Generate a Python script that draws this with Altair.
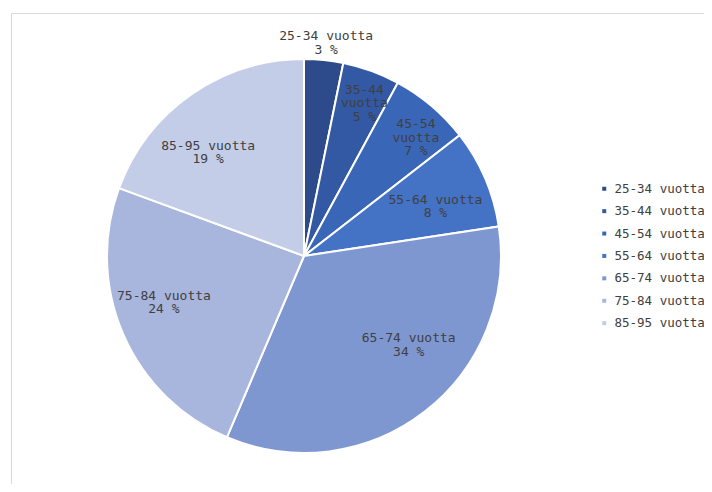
import altair as alt
import pandas as pd

categories = ["25-34 vuotta", "35-44 vuotta", "45-54 vuotta", "55-64 vuotta",
              "65-74 vuotta", "75-84 vuotta", "85-95 vuotta"]
shares = [3.2, 4.7, 6.6, 8.1, 33.8, 24.2, 19.4]
pct_labels = ["3 %", "5 %", "7 %", "8 %", "34 %", "24 %", "19 %"]
colors = ["#2D4A8A", "#3358A4", "#3A66B8", "#4472C4", "#7F97D1", "#A8B5DC", "#C4CDE7"]

# layout: label distance from centre (fraction of pie radius), small angular
# nudge of the label (in share units) and wrapped labels
label_radius = [1.121, 0.897, 0.878, 0.726, 0.676, 0.739, 0.741]
label_nudge = [0, 0, 0, 0, -3.9, 2.1, -1.7]
wrapped = {"35-44 vuotta", "45-54 vuotta"}

def make_label(cat, pct):
    if cat in wrapped:
        a, b = cat.split(" ")
        return f"{a}\n{b}\n{pct}"
    return f"{cat}\n{pct}"

df = pd.DataFrame({
    "cat": categories,
    "share": shares,
    "order": list(range(len(categories))),
    "label": [make_label(c, p) for c, p in zip(categories, pct_labels)],
    "lr": label_radius,
    "nudge": label_nudge,
})

FONT = "DejaVu Sans Mono"
CX, CY, R = 296, 248, 197

arcs = alt.Chart(df).mark_arc(outerRadius=R, stroke="white", strokeWidth=2).encode(
    theta=alt.Theta("share:Q", stack=True),
    order=alt.Order("order:Q"),
    x=alt.value(CX), y=alt.value(CY),
    color=alt.Color(
        "cat:N",
        scale=alt.Scale(domain=categories, range=colors),
        legend=alt.Legend(
            title=None, orient="none", legendX=590, legendY=174.5,
            symbolType="square", symbolSize=16, symbolStrokeWidth=0,
            labelFont=FONT, labelFontSize=12.5, labelColor="#404040",
            labelOffset=4, rowPadding=9.4, padding=0,
        ),
    ),
)

texts = alt.Chart(df).transform_window(
    cum="sum(share)", sort=[alt.SortField("order")], frame=[None, 0]
).transform_calculate(
    mid="datum.cum - datum.share / 2 + datum.nudge"
).mark_text(
    font=FONT, fontSize=13, color="#404040", lineBreak="\n", lineHeight=13.5,
    align="center", baseline="middle",
).encode(
    x=alt.value(CX), y=alt.value(CY),
    theta=alt.Theta("mid:Q", stack=False),
    radius=alt.Radius("lr:Q", stack=False,
                      scale=alt.Scale(type="linear", domain=[0, 1], range=[0, R], zero=True)),
    text="label:N",
)

frame_df = pd.DataFrame({"a": [0]})
left_line = alt.Chart(frame_df).mark_rule(color="#D9D9D9", strokeWidth=1).encode(
    x=alt.value(3.5), y=alt.value(5.5), y2=alt.value(476))
top_line = alt.Chart(frame_df).mark_rule(color="#D9D9D9", strokeWidth=1).encode(
    x=alt.value(3.5), x2=alt.value(696), y=alt.value(5.5))

chart = alt.layer(left_line, top_line, arcs, texts).properties(
    width=696, height=476, autosize=alt.AutoSizeParams(type="none"),
    padding=0,
).configure(background="white", view=alt.ViewConfig(stroke=None))

chart.save("out.html", embed_options={"renderer": "svg", "actions": False})
